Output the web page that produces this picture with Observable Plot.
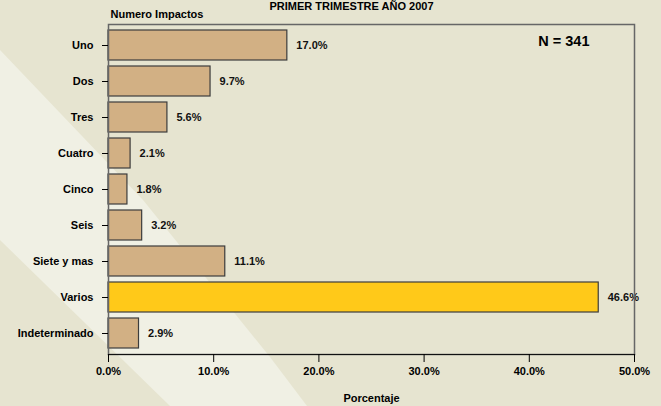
<!DOCTYPE html>
<html>
<head>
<meta charset="utf-8">
<script src="https://cdn.jsdelivr.net/npm/d3@7"></script>
<script src="https://cdn.jsdelivr.net/npm/@observablehq/plot@0.6"></script>
<style>
  html, body { margin: 0; padding: 0; }
  body {
    width: 661px; height: 406px; overflow: hidden;
    background-color: #E6E4D0;
    background-image: url("data:image/svg+xml,%3Csvg xmlns='http://www.w3.org/2000/svg' width='661' height='406'%3E%3Cpolygon points='0,50 143,200 270,357 307,406 170,406 0,240' fill='%23F0F0E4'/%3E%3C/svg%3E");
    background-repeat: no-repeat;
  }
  #chart svg { display: block; }
</style>
</head>
<body>
<div id="chart"></div>
<script>
const categories = ["Uno", "Dos", "Tres", "Cuatro", "Cinco", "Seis", "Siete y mas", "Varios", "Indeterminado"];
const percentages = [17.0, 9.7, 5.6, 2.1, 1.8, 3.2, 11.1, 46.6, 2.9];
const highlighted = "Varios";
const xTicks = [0, 10, 20, 30, 40, 50];
const sampleSize = 341;
const titleText = "PRIMER TRIMESTRE AÑO 2007";
const yTitle = "Numero Impactos";
const xTitle = "Porcentaje";

const data = categories.map((c, i) => ({category: c, value: percentages[i]}));
const fmt = v => v.toFixed(1) + "%";

const chart = Plot.plot({
  width: 661,
  height: 406,
  marginTop: 24,
  marginLeft: 108,
  marginRight: 27,
  marginBottom: 52,
  style: {
    background: "transparent",
    fontFamily: "'Liberation Sans', Arial, sans-serif",
    fontSize: "11px",
    fontWeight: "bold",
    color: "#000"
  },
  x: {domain: [0, 50]},
  y: {domain: categories, paddingInner: 0.155, paddingOuter: 0.0775},
  marks: [
    Plot.barX(data, {
      x: "value",
      y: "category",
      fill: d => d.category === highlighted ? "#FFC919" : "#D2B084",
      stroke: "#3c3c3c",
      strokeWidth: 1.2
    }),
    Plot.text(data, {
      x: "value",
      y: "category",
      text: d => fmt(d.value),
      textAnchor: "start",
      dx: 9,
      fill: "#111",
      fontSize: 11
    }),
    Plot.frame({stroke: "#666", strokeWidth: 1.5}),
    Plot.frame({anchor: "bottom", stroke: "#111", strokeWidth: 1.2}),
    Plot.axisY({tickSize: 6, tickPadding: 9, label: null, fontSize: 11}),
    Plot.axisX({ticks: xTicks, tickSize: 8, tickPadding: 5, tickFormat: fmt, label: null, fontSize: 11}),
    Plot.text([titleText], {text: d => d, frameAnchor: "top", lineAnchor: "bottom", dx: -20, dy: -15, fontSize: 11}),
    Plot.text([yTitle], {text: d => d, frameAnchor: "top-left", textAnchor: "start", lineAnchor: "middle", dx: 2, dy: -10, fontSize: 11}),
    Plot.text([xTitle], {text: d => d, frameAnchor: "bottom", lineAnchor: "middle", dy: 44, fontSize: 11}),
    Plot.text([sampleSize], {text: d => "N = " + d, frameAnchor: "top-right", textAnchor: "end", lineAnchor: "middle", dx: -45, dy: 17, fontSize: 14.5})
  ]
});
document.getElementById("chart").appendChild(chart);
</script>
</body>
</html>
